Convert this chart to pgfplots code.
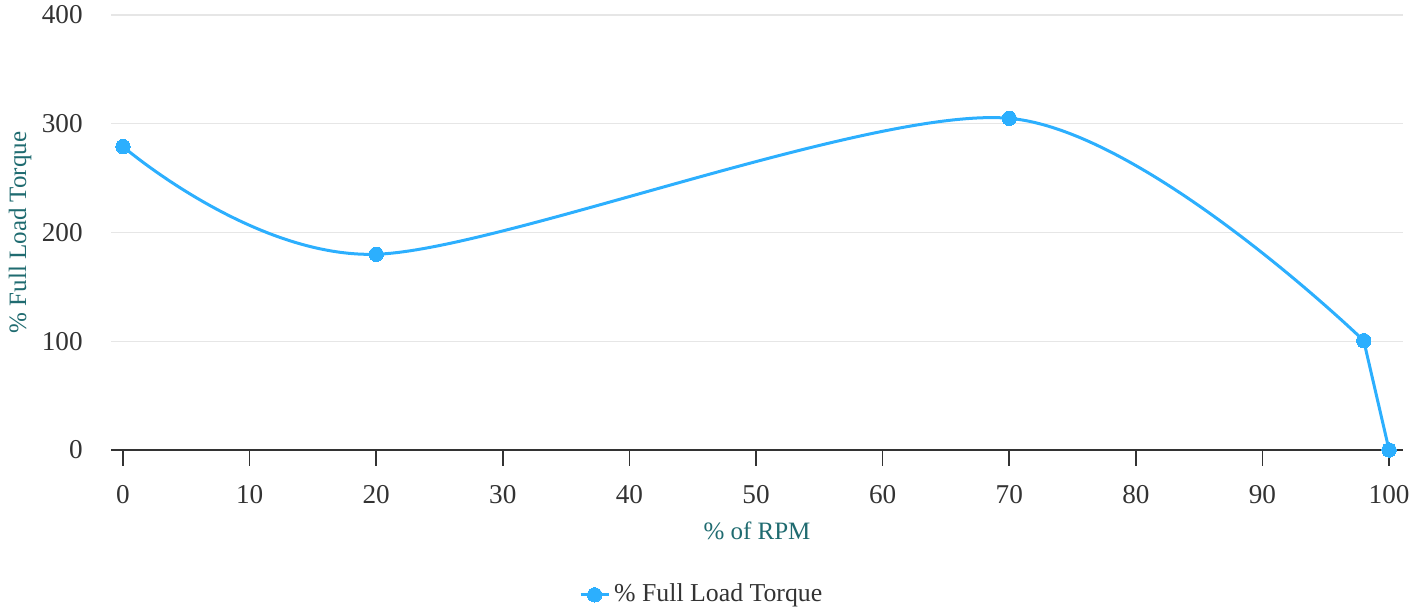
\documentclass[border=0pt]{standalone}
\usepackage{pgfplots}
\pgfplotsset{compat=1.18}
\usepackage{fontspec}
\setmainfont{Liberation Serif}
\definecolor{ser}{HTML}{2CAFFE}
\definecolor{lab}{HTML}{1F6B70}
\definecolor{tk}{HTML}{333333}
\definecolor{grd}{HTML}{E6E6E6}
\begin{document}
\fontsize{12.5}{15}\selectfont
\begin{tikzpicture}
\useasboundingbox (0,0) rectangle (710.5pt,305.5pt);
\begin{axis}[
  at={(55.5pt,80.5pt)}, anchor=south west,
  scale only axis, width=646pt, height=217.5pt,
  xmin=-0.948, xmax=101.1, ymin=0, ymax=400,
  axis x line=bottom, axis y line=left,
  x axis line style={tk, line width=0.8pt, -},
  y axis line style={draw=none},
  xtick={0,10,...,100}, ytick={0,100,...,400},
  tick align=outside, major tick length=8pt,
  x tick style={tk, line width=0.8pt},
  y tick style={draw=none},
  ymajorgrids, y grid style={grd, line width=0.6pt},
  /pgf/number format/assume math mode=true,
  ticklabel style={font=\fontsize{13.6}{16}\selectfont, text=tk},
  xticklabel style={anchor=base, yshift=-18.5pt, inner sep=0pt},
  yticklabel style={anchor=east, xshift=-6pt, inner sep=0pt},
  xlabel={\% of RPM}, ylabel={\% Full Load Torque},
  xlabel style={at={(axis description cs:0.5,-0.186)}, anchor=center, text=lab, font=\fontsize{12.5}{15}\selectfont},
  ylabel style={at={(axis description cs:-0.0704,0.5)}, anchor=center, text=lab, font=\fontsize{12.5}{15}\selectfont},
  legend style={draw=none, fill=none, at={(axis description cs:0.458,-0.333)}, anchor=center, font=\fontsize{12.9}{15}\selectfont, text=tk},
  legend image code/.code={\draw[mark repeat=2, mark phase=2, #1] plot coordinates {(0pt,0pt) (7pt,0pt) (14pt,0pt)};},
  clip=false,
]
\addplot[ser, line width=1.5pt, smooth, mark=*, mark size=3.6pt, mark options={fill=ser, draw=ser, line width=0pt}]
  coordinates {(0,279) (20,180) (70,305) (98,100.5)};
\addlegendentry{\% Full Load Torque}
\addplot[ser, line width=1.5pt, mark=*, mark size=3.6pt, mark options={fill=ser, draw=ser, line width=0pt}, forget plot]
  coordinates {(98,100.5) (100,0)};
\end{axis}
\end{tikzpicture}
\end{document}
